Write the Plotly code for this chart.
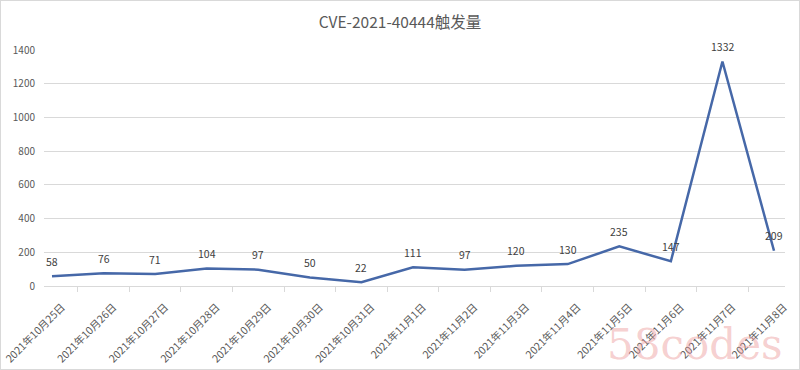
import plotly.graph_objects as go

categories = ["2021年10月25日", "2021年10月26日", "2021年10月27日", "2021年10月28日",
              "2021年10月29日", "2021年10月30日", "2021年10月31日", "2021年11月1日",
              "2021年11月2日", "2021年11月3日", "2021年11月4日", "2021年11月5日",
              "2021年11月6日", "2021年11月7日", "2021年11月8日"]
values = [58, 76, 71, 104, 97, 50, 22, 111, 97, 120, 130, 235, 147, 1332, 209]
y_ticks = [0, 200, 400, 600, 800, 1000, 1200, 1400]

font_family = "Noto Sans CJK SC, Noto Sans, sans-serif"

fig = go.Figure()
fig.add_trace(go.Scatter(
    x=categories, y=values, mode="lines",
    line=dict(color="#4668A8", width=2.5),
    hoverinfo="x+y",
))

for c, v in zip(categories, values):
    fig.add_annotation(x=c, y=v, text=str(v), showarrow=False, yshift=15,
                       xanchor="center", yanchor="middle",
                       font=dict(size=10.5, color="#404040", family=font_family))

fig.update_layout(
    width=800, height=370,
    margin=dict(l=44, r=15, t=50, b=84, autoexpand=False),
    paper_bgcolor="white", plot_bgcolor="white",
    title=dict(text="CVE-2021-40444触发量", x=0.5, xanchor="center", y=0.94, yanchor="middle",
               font=dict(size=15.5, color="#595959", family=font_family)),
    showlegend=False,
    font=dict(family=font_family, color="#595959"),
    shapes=[dict(type="rect", xref="paper", yref="paper",
                 x0=-44/741, y0=-84/236, x1=1+15/741, y1=1+50/236,
                 line=dict(color="#D9D9D9", width=2))],
)
fig.add_annotation(text="58codes", xref="paper", yref="paper", x=1.0, y=-0.36,
                   xanchor="right", yanchor="bottom", showarrow=False,
                   font=dict(size=42, color="rgba(235,150,150,0.45)",
                             family="DejaVu Serif, Liberation Serif, serif"))

fig.update_xaxes(type="category", tickangle=-45, showgrid=False, automargin=False,
                 showline=True, linecolor="#D9D9D9", linewidth=1,
                 ticks="outside", ticklen=5, tickcolor="#D9D9D9",
                 tickson="boundaries", ticklabelshift=10, ticklabelstandoff=10,
                 tickfont=dict(size=10.5, color="#595959", family=font_family))
fig.update_yaxes(range=[0, 1400], tickvals=y_ticks, showgrid=True, gridcolor="#D9D9D9",
                 gridwidth=1, zeroline=False, showline=False, automargin=False,
                 tickfont=dict(size=10, color="#595959", family=font_family),
                 ticklabelstandoff=8)

fig.write_html("out.html")
